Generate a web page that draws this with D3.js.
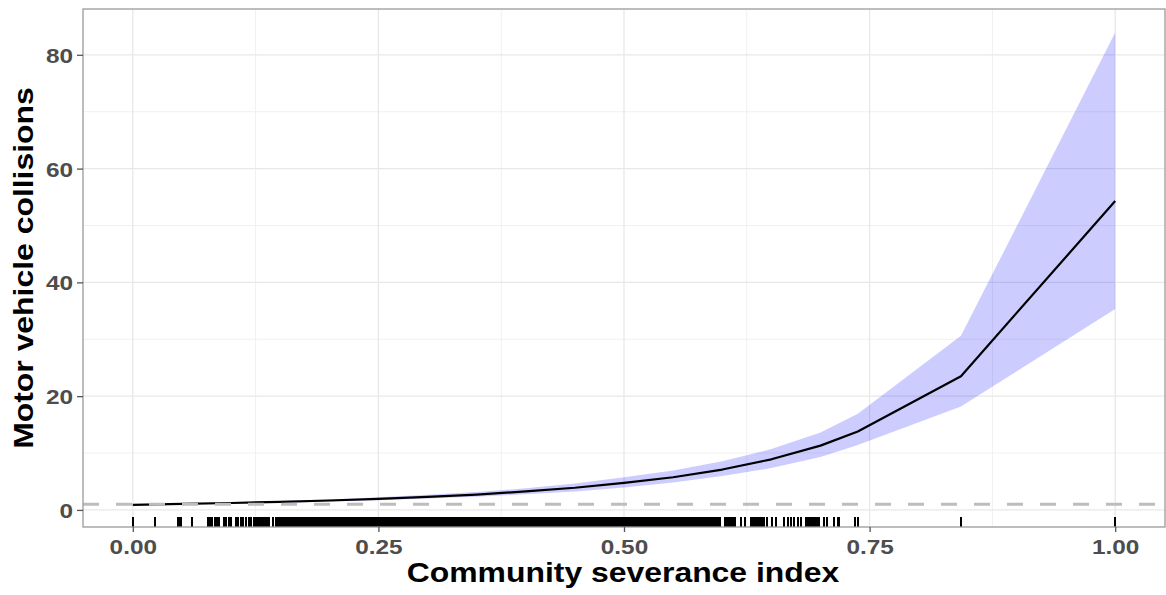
<!DOCTYPE html>
<html>
<head>
<meta charset="utf-8">
<script src="https://cdn.jsdelivr.net/npm/d3@7"></script>
<style>
  body { margin: 0; background: #fff; }
  svg text { font-family: "Liberation Sans", Arial, sans-serif; font-weight: bold; }
</style>
</head>
<body>
<svg width="1166" height="595"></svg>
<script>
// severance index values where the fit is drawn
var sevIdx   = [0.00, 0.05, 0.10, 0.15, 0.20, 0.25, 0.30, 0.35, 0.40, 0.45, 0.50, 0.55, 0.60, 0.65, 0.70, 0.738, 0.843, 1.00];
var fitVals  = [0.90, 1.05, 1.22, 1.42, 1.66, 1.95, 2.30, 2.70, 3.25, 3.90, 4.75, 5.75, 7.10, 8.90, 11.3, 13.8, 23.5, 54.3];
var lowVals  = [0.80, 0.95, 1.10, 1.28, 1.50, 1.70, 2.00, 2.30, 2.75, 3.25, 3.95, 4.80, 5.95, 7.35, 9.30, 11.4, 18.2, 35.3];
var highVals = [1.00, 1.15, 1.35, 1.56, 1.84, 2.25, 2.65, 3.15, 3.80, 4.65, 5.75, 6.95, 8.55, 10.7, 13.6, 16.9, 30.6, 83.9];

// observed severance index (rug), in thousandths
var rugSparse = [0, 23, 45.5, 47, 49, 60, 77, 79, 81, 84, 86, 88, 93, 95, 98, 100, 105, 107, 110, 112, 115, 118, 120,
  123, 124, 125, 126, 127, 128, 129, 130, 131, 133, 134, 135, 136, 137, 139, 143,
  603, 605, 607, 609, 611, 613, 619, 623, 629, 631, 633, 635, 637, 639, 641, 643, 646, 651, 655, 663, 667, 670, 673,
  677, 680, 685, 687, 689, 691, 693, 695, 697, 699, 704, 707, 714, 718, 719, 735, 738, 843, 1000];
var rugDense = [146,148,150,152,154,156,158,160,162,164,166,168,170,172,174,176,178,180,182,184,186,188,190,192,194,196,198,
  200,202,204,206,208,210,212,214,216,218,220,222,224,226,228,230,232,234,236,238,240,242,244,246,248,250,252,254,256,258,
  260,262,264,266,268,270,272,274,276,278,280,282,284,286,288,290,292,294,296,298,300,302,304,306,308,310,312,314,316,318,
  320,322,324,326,328,330,332,334,336,338,340,342,344,346,348,350,352,354,356,358,360,362,364,366,368,370,372,374,376,378,
  380,382,384,386,388,390,392,394,396,398,400,402,404,406,408,410,412,414,416,418,420,422,424,426,428,430,432,434,436,438,
  440,442,444,446,448,450,452,454,456,458,460,462,464,466,468,470,472,474,476,478,480,482,484,486,488,490,492,494,496,498,
  500,502,504,506,508,510,512,514,516,518,520,522,524,526,528,530,532,534,536,538,540,542,544,546,548,550,552,554,556,558,
  560,562,564,566,568,570,572,574,576,578,580,582,584,586,588,590,592,594,596,598];

var xTicks = [0, 0.25, 0.5, 0.75, 1];
var xMinor = [0.125, 0.375, 0.625, 0.875];
var yTicks = [0, 20, 40, 60, 80];
var yMinor = [10, 30, 50, 70];
var refLine = 1;

var svg = d3.select("svg");
var pLeft = 83, pRight = 1165, pTop = 9, pBottom = 527;

var x = d3.scaleLinear().domain([-0.0507, 1.0507]).range([pLeft, pRight]);
var y = d3.scaleLinear().domain([-3.0, 88.05]).range([pBottom, pTop]);

var stretch = 1.16;
function widen(sel) {
    sel.each(function () {
        var w = this.getComputedTextLength();
        d3.select(this).attr("textLength", w * stretch).attr("lengthAdjust", "spacingAndGlyphs");
    });
}

// grid
var grid = svg.append("g");
grid.selectAll(".xmin").data(xMinor).enter().append("line")
    .attr("x1", function (d) { return x(d); }).attr("x2", function (d) { return x(d); })
    .attr("y1", pTop).attr("y2", pBottom)
    .attr("stroke", "#f0f0f0").attr("stroke-width", 1);
grid.selectAll(".ymin").data(yMinor).enter().append("line")
    .attr("x1", pLeft).attr("x2", pRight)
    .attr("y1", function (d) { return y(d); }).attr("y2", function (d) { return y(d); })
    .attr("stroke", "#f0f0f0").attr("stroke-width", 1);
grid.selectAll(".xmaj").data(xTicks).enter().append("line")
    .attr("x1", function (d) { return x(d); }).attr("x2", function (d) { return x(d); })
    .attr("y1", pTop).attr("y2", pBottom)
    .attr("stroke", "#e8e8e8").attr("stroke-width", 1.3);
grid.selectAll(".ymaj").data(yTicks).enter().append("line")
    .attr("x1", pLeft).attr("x2", pRight)
    .attr("y1", function (d) { return y(d); }).attr("y2", function (d) { return y(d); })
    .attr("stroke", "#e8e8e8").attr("stroke-width", 1.3);

var fit = sevIdx.map(function (v, i) {
    return { x: v, fit: fitVals[i], lo: lowVals[i], hi: highVals[i] };
});

// confidence band
svg.append("path")
    .datum(fit)
    .attr("fill", "blue")
    .attr("fill-opacity", 0.2)
    .attr("d", d3.area()
        .x(function (d) { return x(d.x); })
        .y0(function (d) { return y(d.lo); })
        .y1(function (d) { return y(d.hi); }));

// fitted line
svg.append("path")
    .datum(fit)
    .attr("fill", "none")
    .attr("stroke", "#000")
    .attr("stroke-width", 2.2)
    .attr("stroke-linejoin", "round")
    .attr("d", d3.line()
        .x(function (d) { return x(d.x); })
        .y(function (d) { return y(d.fit); }));

// reference line
svg.append("line")
    .attr("x1", pLeft).attr("x2", pRight)
    .attr("y1", y(refLine)).attr("y2", y(refLine))
    .attr("stroke", "#bdbdbd")
    .attr("stroke-width", 3)
    .attr("stroke-dasharray", "16,17");

// rug
var rug = rugSparse.concat(rugDense).map(function (v) { return v / 1000; });
svg.append("g").attr("shape-rendering", "crispEdges")
    .selectAll("line").data(rug).enter().append("line")
    .attr("x1", function (d) { return x(d); }).attr("x2", function (d) { return x(d); })
    .attr("y1", pBottom - 10).attr("y2", pBottom)
    .attr("stroke", "#000").attr("stroke-width", 2);

// panel border
svg.append("rect")
    .attr("x", pLeft).attr("y", pTop)
    .attr("width", pRight - pLeft).attr("height", pBottom - pTop)
    .attr("fill", "none").attr("stroke", "#9a9a9a").attr("stroke-width", 1.3);

// axes
var xAxis = svg.append("g").attr("transform", "translate(0," + pBottom + ")")
    .call(d3.axisBottom(x).tickValues(xTicks).tickFormat(d3.format(".2f")).tickSize(5).tickPadding(6));
var yAxis = svg.append("g").attr("transform", "translate(" + pLeft + ",0)")
    .call(d3.axisLeft(y).tickValues(yTicks).tickSize(6).tickPadding(4));
[xAxis, yAxis].forEach(function (a) {
    a.select(".domain").remove();
    a.selectAll(".tick line").attr("stroke", "#555").attr("stroke-width", 1.3);
    a.selectAll(".tick text").attr("fill", "#4d4d4d").style("font-size", "21px");
});
xAxis.selectAll(".tick text").attr("dy", "0.75em");
yAxis.selectAll(".tick text").attr("dy", "0.36em");
widen(xAxis.selectAll(".tick text"));
widen(yAxis.selectAll(".tick text"));

// titles
svg.append("text")
    .attr("x", (pLeft + pRight) / 2 - 1)
    .attr("y", 582)
    .attr("text-anchor", "middle")
    .style("font-size", "27.5px")
    .attr("fill", "#000")
    .text("Community severance index")
    .call(widen);

svg.append("text")
    .attr("transform", "translate(33," + ((pTop + pBottom) / 2) + ") rotate(-90)")
    .attr("text-anchor", "middle")
    .style("font-size", "27.5px")
    .attr("fill", "#000")
    .text("Motor vehicle collisions")
    .call(widen);
</script>
</body>
</html>
